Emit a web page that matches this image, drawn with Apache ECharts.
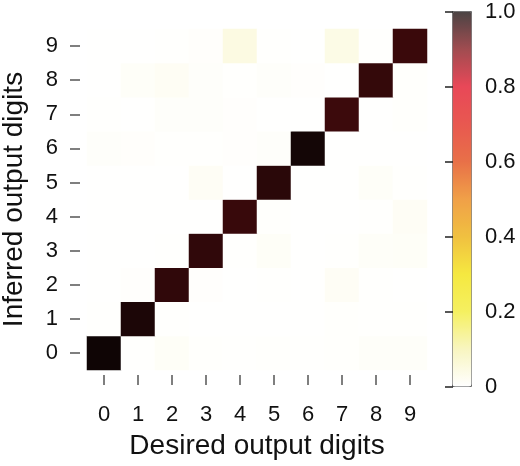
<!DOCTYPE html>
<html>
<head>
<meta charset="utf-8">
<script src="https://cdn.jsdelivr.net/npm/echarts@6/dist/echarts.min.js"></script>
<style>
html,body{margin:0;padding:0;background:#fff;}
#chart{width:520px;height:466px;}
</style>
</head>
<body>
<div id="chart"></div>
<script>
// Desired output digits (x) and inferred output digits (y)
const X_LABELS = ['0','1','2','3','4','5','6','7','8','9'];
const Y_LABELS = ['0','1','2','3','4','5','6','7','8','9'];
// rows: inferred digit 0..9, columns: desired digit 0..9
const ROW_0 = [0.998, 0.002, 0.010, 0.003, 0.002, 0.003, 0.002, 0.003, 0.007, 0.007];
const ROW_1 = [0.002, 0.987, 0.002, 0.001, 0.001, 0.001, 0.001, 0.003, 0.002, 0.002];
const ROW_2 = [0.001, 0.004, 0.970, 0.004, 0.001, 0.002, 0.001, 0.012, 0.002, 0.001];
const ROW_3 = [0.001, 0.001, 0.002, 0.970, 0.002, 0.010, 0.001, 0.002, 0.008, 0.010];
const ROW_4 = [0.001, 0.001, 0.001, 0.001, 0.963, 0.003, 0.001, 0.001, 0.002, 0.012];
const ROW_5 = [0.001, 0.001, 0.001, 0.012, 0.001, 0.975, 0.001, 0.001, 0.008, 0.002];
const ROW_6 = [0.006, 0.005, 0.002, 0.002, 0.004, 0.006, 0.994, 0.001, 0.001, 0.001];
const ROW_7 = [0.002, 0.001, 0.006, 0.006, 0.004, 0.001, 0.001, 0.959, 0.001, 0.003];
const ROW_8 = [0.001, 0.008, 0.013, 0.006, 0.002, 0.006, 0.004, 0.001, 0.966, 0.003];
const ROW_9 = [0.001, 0.001, 0.002, 0.005, 0.035, 0.002, 0.001, 0.030, 0.002, 0.961];
const ROWS = [ROW_0, ROW_1, ROW_2, ROW_3, ROW_4, ROW_5, ROW_6, ROW_7, ROW_8, ROW_9];
// colour bar tick values
const CB_TICKS = [0, 0.2, 0.4, 0.6, 0.8, 1.0];
// colour map (value 0 -> 1)
const CMAP = ['#ffffff','#f5f1ab','#f1eb2b','#f1e000','#ebab00','#eb800b',
              '#e0400b','#e02015','#e00b20','#801015','#0d0505'];

// the colour bar is drawn semi-transparent (alpha 0.75 over white)
function fade(hex, a) {
  const n = parseInt(hex.slice(1), 16);
  const ch = [(n >> 16) & 255, (n >> 8) & 255, n & 255].map(c => Math.round(a * c + (1 - a) * 255));
  return 'rgb(' + ch.join(',') + ')';
}
const CMAP_BAR = CMAP.map(c => fade(c, 0.75));

const heatData = [];
ROWS.forEach((row, y) => row.forEach((v, x) => heatData.push([x, y, v])));

const FONT = 'Liberation Sans, Arial, sans-serif';
const cbLabel = v => { const t = CB_TICKS.find(c => Math.abs(c - v) < 1e-6); return t === 0 ? '0' : t.toFixed(1); };

const chart = echarts.init(document.getElementById('chart'), null, {renderer: 'canvas'});
chart.setOption({
  animation: false,
  backgroundColor: '#ffffff',
  textStyle: {fontFamily: FONT},
  grid: [
    {left: 87, top: 29, width: 340, height: 341, outerBoundsMode: 'none', containLabel: false},
    {left: 453, top: 12, width: 19, height: 375, outerBoundsMode: 'none', containLabel: false}
  ],
  xAxis: [
    {type: 'category', gridIndex: 0, data: X_LABELS, offset: 5, axisLine: {show: false},
      axisTick: {show: true, alignWithLabel: true, length: 10, lineStyle: {color: '#555', width: 1.5}},
      axisLabel: {fontSize: 22, color: '#111', margin: 29},
      name: 'Desired output digits', nameLocation: 'middle', nameGap: 57,
      nameTextStyle: {fontSize: 28, color: '#111'}},
    {type: 'value', gridIndex: 1, min: 0, max: 1, show: false}
  ],
  yAxis: [
    {type: 'category', gridIndex: 0, data: Y_LABELS, offset: 7, axisLine: {show: false},
      axisTick: {show: true, alignWithLabel: true, length: 10, lineStyle: {color: '#555', width: 1.5}},
      axisLabel: {fontSize: 22, color: '#111', margin: 22},
      name: 'Inferred output digits', nameLocation: 'middle', nameGap: 52,
      nameTextStyle: {fontSize: 28, color: '#111'}},
    {type: 'value', gridIndex: 1, min: 0, max: 1, interval: 0.2, position: 'right', z: 10,
      axisLine: {show: false},
      axisTick: {show: true, inside: true, length: 8, lineStyle: {color: '#222', width: 1.5}},
      axisLabel: {fontSize: 22, color: '#111', margin: 13, formatter: cbLabel},
      splitLine: {show: false}}
  ],
  visualMap: [
    {show: false, min: 0, max: 1, seriesIndex: 0, dimension: 2, inRange: {color: CMAP}},
    {type: 'continuous', show: true, min: 0, max: 1, seriesIndex: 1, dimension: 1,
      left: 452, top: 11, itemWidth: 19, itemHeight: 375, padding: 0,
      borderColor: '#6a6a6a', borderWidth: 1, text: null, showLabel: false,
      calculable: false, hoverLink: false, inRange: {color: CMAP_BAR}}
  ],
  series: [
    {type: 'heatmap', xAxisIndex: 0, yAxisIndex: 0, data: heatData},
    {type: 'scatter', xAxisIndex: 1, yAxisIndex: 1, data: [], silent: true}
  ]
});
</script>
</body>
</html>
